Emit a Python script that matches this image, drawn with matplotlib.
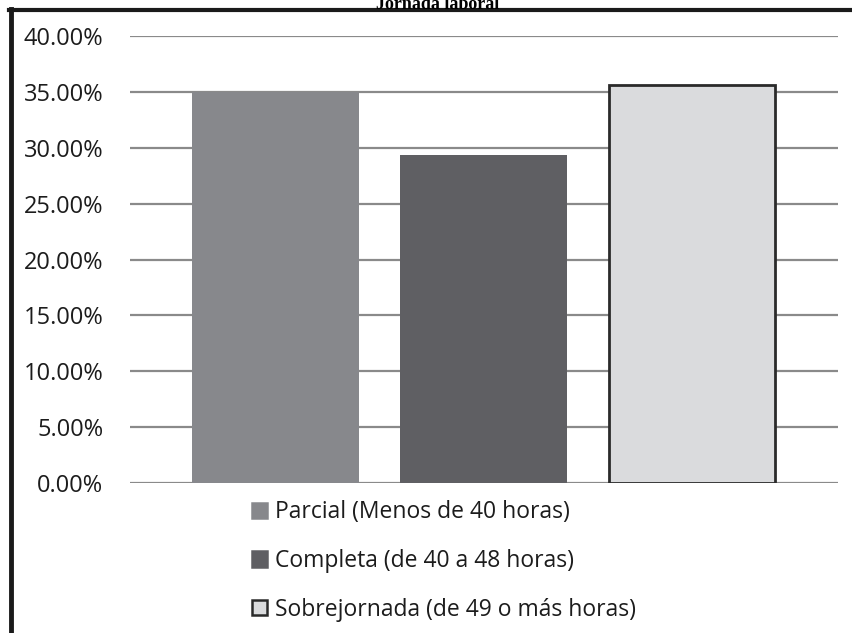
import matplotlib.pyplot as plt
from matplotlib.patches import Patch
from matplotlib.lines import Line2D
from matplotlib.ticker import FuncFormatter

plt.rcParams['font.family'] = ['Open Sans', 'DejaVu Sans']

# data
series = ['Parcial (Menos de 40 horas)',
          'Completa (de 40 a 48 horas)',
          'Sobrejornada (de 49 o más horas)']
values = [0.350, 0.294, 0.356]
colors = ['#87888c', '#5f5f63', '#dadbdd']
edges = ['none', 'none', '#2a2a2a']
yticks = [0.0, 0.05, 0.10, 0.15, 0.20, 0.25, 0.30, 0.35, 0.40]

fig = plt.figure(figsize=(8.53, 6.33), dpi=100)
ax = fig.add_axes([0.152, 0.237, 0.830, 0.706])

for i, (v, c, e) in enumerate(zip(values, colors, edges)):
    ax.bar(i, v, width=0.8, color=c, edgecolor=e, linewidth=2 if e != 'none' else 0, zorder=3)

ax.set_xlim(-0.7, 2.7)
ax.set_ylim(0, 0.40)
ax.set_yticks(yticks)
ax.yaxis.set_major_formatter(FuncFormatter(lambda y, p: f'{y*100:.2f}%'))
ax.grid(axis='y', color='#8a8a8a', linewidth=1.6, zorder=1)
ax.set_xticks([])
for s in ax.spines.values():
    s.set_visible(False)
ax.tick_params(axis='y', length=0, pad=19, labelsize=17, labelcolor='#1c1c1c')

# legend below the plot
handles = [Patch(facecolor=c, edgecolor=(e if e != 'none' else c), linewidth=1.8)
           for c, e in zip(colors, edges)]
fig.legend(handles, series, loc='upper left', bbox_to_anchor=(0.285, 0.224),
           frameon=False, fontsize=16.5, labelspacing=1.08, handlelength=0.65,
           handleheight=0.65, handletextpad=0.35, borderaxespad=0, labelcolor='#1c1c1c')

# frame lines of the cropped figure
fig.add_artist(Line2D([0.0125, 0.0125], [0, 0.985], color='#1a1a1a', linewidth=3.5))
fig.add_artist(Line2D([0.01, 1.0], [0.984, 0.984], color='#1a1a1a', linewidth=3))

fig.text(0.513, 0.986, 'Jornada laboral', ha='center', va='baseline',
         fontsize=13, fontweight='bold', family='Liberation Serif')

fig.savefig('out.png', dpi=100)
